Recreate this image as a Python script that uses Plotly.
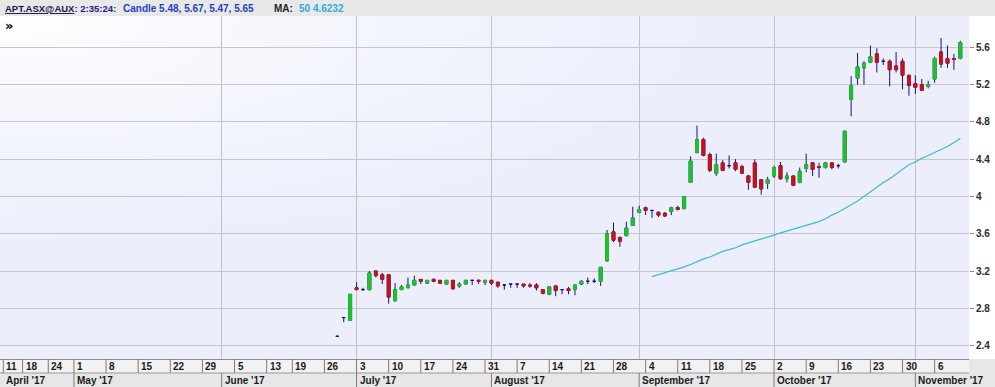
import base64
import math
import struct
import zlib

import pandas as pd
import plotly.graph_objects as go

# ---------------- calendar / data ----------------
CAL_START = "2017-04-11"
CAL_END = "2017-11-10"
HOLIDAYS = ["2017-04-14", "2017-04-17", "2017-04-25", "2017-06-12"]
DATA_START = "2017-06-28"
MA_START = "2017-09-05"

opens = [2.50, 2.70, 2.67, 3.02, 3.00, 3.00, 3.20, 3.16, 3.16, 2.88,
         3.00, 3.02, 3.05, 3.11, 3.07, 3.11, 3.10, 3.06, 3.10, 3.04,
         3.06, 3.10, 3.10, 3.08, 3.10, 3.08, 3.05, 3.06, 3.06, 3.06,
         3.05, 3.05, 3.00, 2.95, 3.04, 3.00, 3.01, 3.00, 3.06, 3.09,
         3.09, 3.09, 3.31, 3.62, 3.56, 3.58, 3.69, 3.83, 3.88, 3.85,
         3.83, 3.82, 3.84, 3.88, 3.87, 4.15, 4.47, 4.61, 4.45, 4.25,
         4.36, 4.33, 4.36, 4.32, 4.22, 4.36, 4.18, 4.14, 4.22, 4.33,
         4.19, 4.22, 4.15, 4.30, 4.36, 4.32, 4.31, 4.36, 4.33, 4.37,
         5.04, 5.27, 5.38, 5.44, 5.53, 5.45, 5.45, 5.40, 5.45, 5.30,
         5.21, 5.20, 5.18, 5.26, 5.55, 5.48, 5.48, 5.48]
highs = [2.50, 2.70, 2.95, 3.08, 3.02, 3.20, 3.20, 3.18, 3.16, 3.07,
         3.05, 3.13, 3.15, 3.11, 3.10, 3.12, 3.10, 3.10, 3.10, 3.08,
         3.10, 3.10, 3.11, 3.10, 3.10, 3.08, 3.06, 3.06, 3.06, 3.06,
         3.07, 3.07, 3.00, 3.03, 3.05, 3.00, 3.03, 3.05, 3.10, 3.13,
         3.12, 3.24, 3.64, 3.72, 3.57, 3.73, 3.89, 3.90, 3.89, 3.85,
         3.84, 3.83, 3.89, 3.90, 4.00, 4.43, 4.76, 4.63, 4.47, 4.46,
         4.39, 4.44, 4.40, 4.34, 4.23, 4.40, 4.18, 4.21, 4.33, 4.37,
         4.26, 4.22, 4.31, 4.46, 4.37, 4.36, 4.37, 4.36, 4.35, 4.70,
         5.29, 5.54, 5.45, 5.62, 5.59, 5.48, 5.47, 5.55, 5.48, 5.30,
         5.30, 5.26, 5.24, 5.50, 5.70, 5.62, 5.53, 5.67]
lows = [2.50, 2.65, 2.67, 3.00, 2.99, 2.99, 3.13, 3.06, 2.85, 2.88,
        3.00, 3.02, 3.05, 3.06, 3.06, 3.08, 3.07, 3.06, 3.00, 3.02,
        3.06, 3.05, 3.06, 3.05, 3.05, 3.02, 3.00, 3.02, 3.02, 3.02,
        3.02, 2.99, 2.95, 2.94, 2.93, 2.95, 2.95, 2.94, 3.05, 3.06,
        3.07, 3.04, 3.30, 3.51, 3.46, 3.57, 3.69, 3.82, 3.80, 3.77,
        3.78, 3.78, 3.80, 3.85, 3.86, 4.15, 4.47, 4.43, 4.26, 4.22,
        4.27, 4.30, 4.27, 4.24, 4.07, 4.10, 4.02, 4.08, 4.20, 4.18,
        4.15, 4.11, 4.14, 4.26, 4.22, 4.20, 4.30, 4.29, 4.30, 4.37,
        4.86, 5.20, 5.20, 5.43, 5.33, 5.41, 5.18, 5.33, 5.15, 5.08,
        5.10, 5.13, 5.16, 5.22, 5.38, 5.38, 5.36, 5.47]
closes = [2.50, 2.70, 2.95, 3.00, 3.00, 3.18, 3.15, 3.11, 2.92, 3.00,
          3.03, 3.05, 3.10, 3.09, 3.10, 3.09, 3.07, 3.10, 3.01, 3.06,
          3.10, 3.10, 3.09, 3.10, 3.07, 3.04, 3.05, 3.06, 3.06, 3.04,
          3.04, 3.02, 2.96, 3.03, 2.99, 3.00, 2.99, 3.05, 3.09, 3.09,
          3.09, 3.24, 3.60, 3.53, 3.52, 3.66, 3.77, 3.86, 3.85, 3.85,
          3.80, 3.79, 3.88, 3.86, 4.00, 4.38, 4.61, 4.44, 4.28, 4.34,
          4.28, 4.33, 4.29, 4.25, 4.15, 4.10, 4.08, 4.18, 4.31, 4.19,
          4.22, 4.12, 4.27, 4.34, 4.29, 4.31, 4.36, 4.31, 4.33, 4.70,
          5.19, 5.39, 5.43, 5.50, 5.44, 5.45, 5.36, 5.36, 5.30, 5.19,
          5.17, 5.14, 5.20, 5.48, 5.42, 5.43, 5.47, 5.65]
ma50 = [3.14, 3.16, 3.18, 3.20, 3.22, 3.245, 3.27, 3.30, 3.33, 3.35,
        3.38, 3.41, 3.43, 3.45, 3.48, 3.50, 3.52, 3.54, 3.565, 3.585,
        3.61, 3.63, 3.65, 3.67, 3.69, 3.71, 3.73, 3.76, 3.80, 3.83,
        3.87, 3.91, 3.95, 4.00, 4.05, 4.10, 4.15, 4.19, 4.24, 4.29,
        4.34, 4.37, 4.41, 4.44, 4.47, 4.50, 4.535, 4.58, 4.623]

HEADER = [
    ("<u>APT.ASX@AUX</u><span style='color:#1c2288'>: 2:35:24:</span>", 3, "#16164a", 9.5),
    ("Candle 5.48, 5.67, 5.47, 5.65", 121, "#1f3fc4", 10),
    ("MA:", 272, "#222222", 10),
    ("50 4.6232", 297, "#33a9e3", 10),
]

# ---------------- geometry helpers ----------------
W, H = 995, 387
ML, MR, MT, MB = 0, 26, 16, 28
PW, PH = W - ML - MR, H - MT - MB


def px(xp):
    return (xp - ML) / PW


def py(yp):
    return (H - MB - yp) / PH


# soft background gradient for the plot area (white top-left -> lavender)
def gradient_png(w, h, c0, c1):
    rows = []
    for j in range(h):
        row = bytearray([0])
        for i in range(w):
            u, v = i / (w - 1), j / (h - 1)
            t = min(1.0, math.hypot(u * 1.0, v * 1.1) / 0.75)
            t = t ** 0.8
            for k in range(3):
                row.append(int(round(c0[k] + (c1[k] - c0[k]) * t)))
        rows.append(bytes(row))
    raw = b"".join(rows)

    def chunk(tag, data):
        return (struct.pack(">I", len(data)) + tag + data +
                struct.pack(">I", zlib.crc32(tag + data) & 0xFFFFFFFF))

    png = (b"\x89PNG\r\n\x1a\n" +
           chunk(b"IHDR", struct.pack(">IIBBBBB", w, h, 8, 2, 0, 0, 0)) +
           chunk(b"IDAT", zlib.compress(raw)) + chunk(b"IEND", b""))
    return "data:image/png;base64," + base64.b64encode(png).decode()


BG_IMG = gradient_png(96, 36, (255, 255, 255), (236, 239, 251))

cal = pd.bdate_range(CAL_START, CAL_END, freq="C", holidays=HOLIDAYS)
pos = {d: i for i, d in enumerate(cal)}
dates = cal[cal >= pd.Timestamp(DATA_START)]
xs = [pos[d] for d in dates]
ma_x = [pos[d] for d in cal[cal >= pd.Timestamp(MA_START)]]

NAVY = "#10108c"
GREEN = "#20c22a"
RED = "#c3141c"

fig = go.Figure()

# wicks + doji bars (navy)
fig.add_trace(go.Candlestick(
    x=xs, open=opens, high=highs, low=lows, close=closes,
    increasing=dict(line=dict(color=NAVY, width=1), fillcolor=NAVY),
    decreasing=dict(line=dict(color=NAVY, width=1), fillcolor=NAVY),
    hoverinfo="skip", showlegend=False))

# coloured bodies (skip dojis)
bo, bh, bl, bc = [], [], [], []
for o, c in zip(opens, closes):
    if o == c:
        bo.append(None); bh.append(None); bl.append(None); bc.append(None)
    else:
        bo.append(o); bc.append(c); bh.append(max(o, c)); bl.append(min(o, c))
fig.add_trace(go.Candlestick(
    x=xs, open=bo, high=bh, low=bl, close=bc,
    increasing=dict(line=dict(color=GREEN, width=1), fillcolor=GREEN),
    decreasing=dict(line=dict(color=RED, width=1), fillcolor=RED),
    hoverinfo="skip", showlegend=False))

fig.add_trace(go.Scatter(x=ma_x, y=ma50, mode="lines",
                         line=dict(color="#3db5e8", width=1.2),
                         hoverinfo="skip", showlegend=False))

# week / month starts
week_starts, month_starts = [], []
prev_w, prev_m = None, None
for d in cal:
    wk = d.isocalendar()[:2]
    if wk != prev_w:
        week_starts.append(d)
        prev_w = wk
    mk = (d.year, d.month)
    if mk != prev_m:
        month_starts.append(d)
        prev_m = mk

grid_months = [pos[d] for d in month_starts if d.month >= 6]

FONT = "Liberation Sans"
shapes = []
annotations = []

# header bar
shapes.append(dict(type="rect", xref="paper", yref="paper", x0=px(0), x1=px(W),
                   y0=py(MT), y1=py(0), fillcolor="#e8e8e8", line=dict(width=0), layer="below"))
# bottom axis background
shapes.append(dict(type="rect", xref="paper", yref="paper", x0=px(0), x1=px(W),
                   y0=py(H), y1=py(H - MB), fillcolor="#e7e7e7", line=dict(width=0)))
shapes.append(dict(type="rect", xref="paper", yref="paper", x0=px(0), x1=px(ML + PW),
                   y0=py(373), y1=py(H - MB), fillcolor="#f2f2f2", line=dict(width=0)))
shapes.append(dict(type="line", xref="paper", yref="paper", x0=px(0), x1=px(ML + PW),
                   y0=py(H - MB + 0.5), y1=py(H - MB + 0.5), line=dict(color="#8c8c8c", width=1)))
shapes.append(dict(type="line", xref="paper", yref="paper", x0=px(0), x1=px(ML + PW),
                   y0=py(373), y1=py(373), line=dict(color="#9a9a9a", width=1)))

for d in week_starts:
    i = pos[d]
    shapes.append(dict(type="line", xref="x", yref="paper", x0=i, x1=i,
                       y0=py(373), y1=py(H - MB), line=dict(color="#7c7c7c", width=1)))
    annotations.append(dict(xref="x", yref="paper", x=i, y=py(366.5), text=str(d.day),
                            xanchor="left", yanchor="middle", xshift=1, showarrow=False,
                            font=dict(family=FONT, size=10, color="#1a1a1a", weight="bold")))

for d in month_starts:
    i = pos[d]
    if i > 0:
        shapes.append(dict(type="line", xref="x", yref="paper", x0=i, x1=i,
                           y0=py(H), y1=py(373), line=dict(color="#7c7c7c", width=1)))
    annotations.append(dict(xref="x", yref="paper", x=i, y=py(380.5),
                            text=d.strftime("%B '%y"),
                            xanchor="left", yanchor="middle", xshift=1, showarrow=False,
                            font=dict(family=FONT, size=10, color="#1a1a1a", weight="bold")))

for text, xp, col, fs in HEADER:
    annotations.append(dict(xref="paper", yref="paper", x=px(xp), y=py(8), text=text,
                            xanchor="left", yanchor="middle", showarrow=False,
                            font=dict(family=FONT, size=fs, color=col, weight="bold")))

annotations.append(dict(xref="paper", yref="paper", x=px(3), y=py(25), text="»",
                        xanchor="left", yanchor="middle", showarrow=False,
                        font=dict(family="DejaVu Sans", size=13, color="#000000", weight="bold")))

x0 = -0.514
x1 = 150.35
fig.update_layout(
    width=W, height=H,
    margin=dict(l=ML, r=MR, t=MT, b=MB),
    paper_bgcolor="#ffffff",
    plot_bgcolor="rgba(0,0,0,0)",
    images=[dict(source=BG_IMG, xref="x domain", yref="y domain", x=0, y=1,
                 sizex=1, sizey=1, sizing="stretch", xanchor="left", yanchor="top",
                 layer="below")],
    boxgap=0.35,
    showlegend=False,
    hovermode=False,
    shapes=shapes,
    annotations=annotations,
    xaxis=dict(range=[x0, x1], rangeslider=dict(visible=False), tickmode="array",
               tickvals=grid_months, showticklabels=False, ticks="",
               showgrid=True, gridcolor="#c2c2c6", gridwidth=1, zeroline=False,
               showline=False, fixedrange=True),
    yaxis=dict(range=[2.256, 5.936], side="right", tick0=0, dtick=0.4,
               showgrid=True, gridcolor="#c6c6ca", gridwidth=1, zeroline=False,
               ticks="outside", ticklen=4, tickcolor="#888888",
               tickfont=dict(family=FONT, size=10, color="#2a2a2a", weight="bold"),
               showline=False, fixedrange=True),
)

fig.write_html("out.html", config={"displayModeBar": False},
               post_script="document.body.style.margin='0px';"
                           "document.body.style.overflow='hidden';")
